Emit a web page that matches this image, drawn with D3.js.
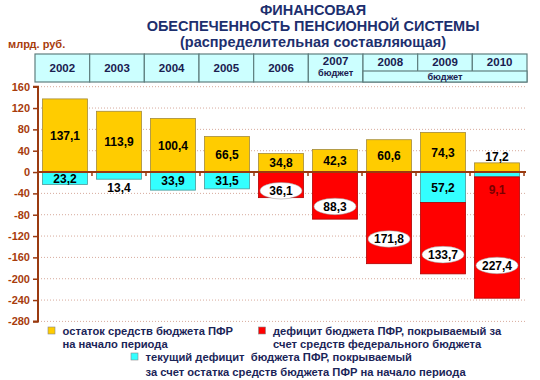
<!DOCTYPE html>
<html>
<head>
<meta charset="utf-8">
<script src="https://cdn.jsdelivr.net/npm/d3@7"></script>
<style>
  html, body { margin: 0; padding: 0; background: #ffffff; }
  svg { display: block; font-family: "Liberation Sans", Arial, sans-serif; }
</style>
</head>
<body>
<svg id="chart" width="540" height="380"></svg>
<script>
// ---------- data ----------
const years = ["2002", "2003", "2004", "2005", "2006", "2007", "2008", "2009", "2010"];
const budgetYears = ["2007", "2008", "2009", "2010"];
const balanceStart = [137.1, 113.9, 100.4, 66.5, 34.8, 42.3, 60.6, 74.3, 17.2];     // yellow
const deficitFromBalance = [23.2, 13.4, 33.9, 31.5, 0, 0, 0, 57.2, 9.1];          // cyan
const deficitFederalBar = [0, 0, 0, 0, 48, 88.3, 171.8, 133.7, 227.4];             // red (as drawn)
const deficitFederalLabel = ["", "", "", "", "36,1", "88,3", "171,8", "133,7", "227,4"];
const yTicks = [160, 120, 80, 40, 0, -40, -80, -120, -160, -200, -240, -280];
const titleLines = ["ФИНАНСОВАЯ", "ОБЕСПЕЧЕННОСТЬ ПЕНСИОННОЙ СИСТЕМЫ", "(распределительная составляющая)"];
const unitLabel = "млрд. руб.";
const budgetWord = "бюджет";
const legendItems = [
  {key: "yellow", lines: ["остаток средств бюджета ПФР", "на начало периода"]},
  {key: "red", lines: ["дефицит бюджета ПФР, покрываемый за", "счет средств федерального бюджета"]},
  {key: "cyan", lines: ["текущий дефицит  бюджета ПФР, покрываемый", "за счет остатка средств бюджета ПФР на начало периода"]}
];

// ---------- styles ----------
const C = {
  yellow: "#ffcc00", cyan: "#33ffff", red: "#ff0000",
  axis: "#9a3a10", tickText: "#a83c0c", grid: "#d7aa9c",
  title: "#1d2f6e", legendText: "#1b2558", tableFill: "#ccffff", tableStroke: "#5f7f7f", tableText: "#1a2050"
};

const svg = d3.select("#chart");
const fmt = d3.formatLocale({decimal: ",", thousands: " ", grouping: [3], currency: ["", ""], minus: "-"}).format(".1f");

// ---------- scales ----------
const x = d3.scaleBand().domain(years).range([38, 524]).paddingInner(0.167).paddingOuter(0.083);
const y = d3.scaleLinear().domain([-280, 160]).range([321.4, 86.7]);
const xTable = d3.scaleBand().domain(years).range([35, 527]);

// ---------- title ----------
const titleY = [14.5, 30.6, 46.7];
svg.append("g").selectAll("text").data(titleLines).join("text")
  .attr("x", 313).attr("y", (d, i) => titleY[i])
  .attr("text-anchor", "middle").attr("font-size", 14.5).attr("font-weight", "bold")
  .attr("fill", C.title).text(d => d);

svg.append("text").attr("x", 8).attr("y", 48).attr("font-size", 11).attr("font-weight", "bold")
  .attr("fill", C.tickText).text(unitLabel);

// ---------- grid ----------
svg.append("g").selectAll("line").data(yTicks.filter(d => d !== 0)).join("line")
  .attr("x1", 38).attr("x2", 526).attr("y1", d => y(d)).attr("y2", d => y(d))
  .attr("stroke", C.grid).attr("stroke-width", 1).attr("stroke-dasharray", "1,2");

// ---------- bars ----------
const gBars = svg.append("g");
const bw = x.bandwidth();
// yellow
gBars.selectAll(".yb").data(years).join("rect").attr("class", "yb")
  .attr("x", d => x(d)).attr("width", bw)
  .attr("y", (d, i) => y(balanceStart[i])).attr("height", (d, i) => y(0) - y(balanceStart[i]))
  .attr("fill", C.yellow).attr("stroke", "#a28a3c").attr("stroke-width", 0.8);
// cyan
gBars.selectAll(".cb").data(years.filter((d, i) => deficitFromBalance[i] > 0)).join("rect").attr("class", "cb")
  .attr("x", d => x(d)).attr("width", bw)
  .attr("y", y(0)).attr("height", d => y(-deficitFromBalance[years.indexOf(d)]) - y(0))
  .attr("fill", C.cyan).attr("stroke", "#4a9a9a").attr("stroke-width", 0.8);
// red
gBars.selectAll(".rb").data(years.filter((d, i) => deficitFederalBar[i] > 0)).join("rect").attr("class", "rb")
  .attr("x", d => x(d)).attr("width", bw)
  .attr("y", d => y(-deficitFromBalance[years.indexOf(d)]))
  .attr("height", d => { const i = years.indexOf(d); return y(-deficitFromBalance[i] - deficitFederalBar[i]) - y(-deficitFromBalance[i]); })
  .attr("fill", C.red).attr("stroke", "#b00000").attr("stroke-width", 0.8);

// ---------- zero line + ticks ----------
svg.append("line").attr("x1", 38).attr("x2", 526).attr("y1", y(0)).attr("y2", y(0))
  .attr("stroke", C.axis).attr("stroke-width", 2);
svg.append("g").selectAll("line").data(years).join("line")
  .attr("x1", d => x(d) + bw + (x.step() - bw) / 2)
  .attr("x2", d => x(d) + bw + (x.step() - bw) / 2)
  .attr("y1", y(0)).attr("y2", y(0) + 4)
  .attr("stroke", C.axis).attr("stroke-width", 1.5);

// ---------- y axis ----------
const yAxis = d3.axisLeft(y).tickValues(yTicks).tickSize(5).tickPadding(3).tickFormat(d => String(d));
const gy = svg.append("g").attr("transform", "translate(38,0)").call(yAxis);
gy.select(".domain").attr("stroke", C.axis).attr("stroke-width", 2).attr("d", `M-5,${y(160)}H0V${y(-280)}H-5`);
gy.selectAll(".tick line").attr("stroke", C.axis).attr("stroke-width", 1.5);
gy.selectAll(".tick text").attr("fill", C.tickText).attr("font-size", 11).attr("font-weight", "bold")
  .attr("font-family", "Liberation Sans, Arial, sans-serif");

// ---------- value labels ----------
const gLab = svg.append("g").attr("font-size", 12).attr("font-weight", "bold").attr("text-anchor", "middle");
years.forEach((yr, i) => {
  const cx = x(yr) + bw / 2;
  // yellow
  const yh = y(0) - y(balanceStart[i]);
  const yy = yh >= 14 ? y(balanceStart[i]) + yh / 2 : y(balanceStart[i]) - 6;
  gLab.append("text").attr("x", cx).attr("y", yy).attr("dy", "0.36em").attr("fill", "#000").text(fmt(balanceStart[i]));
  // cyan
  if (deficitFromBalance[i] > 0) {
    const ch = y(-deficitFromBalance[i]) - y(0);
    const inside = ch >= 12;
    const onRed = !inside && deficitFederalBar[i] > 0;
    const cy = inside ? y(0) + ch / 2 : y(-deficitFromBalance[i]) + (onRed ? 13 : 8.5);
    gLab.append("text").attr("x", cx).attr("y", cy).attr("dy", "0.36em")
      .attr("fill", onRed ? "#7a0000" : "#000").text(fmt(deficitFromBalance[i]));
  }
  // red
  if (deficitFederalBar[i] > 0) {
    const top = y(-deficitFromBalance[i]);
    const bot = y(-deficitFromBalance[i] - deficitFederalBar[i]);
    const ey = top + (bot - top) * 0.73;
    gLab.append("ellipse").attr("cx", cx).attr("cy", ey).attr("rx", 21).attr("ry", 8.3)
      .attr("fill", "#fff").attr("stroke", "#999").attr("stroke-width", 0.5);
    gLab.append("text").attr("x", cx).attr("y", ey).attr("dy", "0.36em").attr("fill", "#000").text(deficitFederalLabel[i]);
  }
});

// ---------- header table ----------
const tTop = 54, tBot = 82, tMid = 71;
const gT = svg.append("g");
gT.selectAll("rect").data(years).join("rect")
  .attr("x", d => xTable(d)).attr("y", tTop).attr("width", xTable.bandwidth()).attr("height", tBot - tTop)
  .attr("fill", C.tableFill).attr("stroke", C.tableStroke).attr("stroke-width", 1.2);
const split = budgetYears.slice(1);
const mx0 = xTable(split[0]), mx1 = xTable(split[split.length - 1]) + xTable.bandwidth();
gT.append("rect").attr("x", mx0).attr("y", tMid).attr("width", mx1 - mx0).attr("height", tBot - tMid)
  .attr("fill", C.tableFill).attr("stroke", C.tableStroke).attr("stroke-width", 1.2);
gT.selectAll(".yr").data(years).join("text").attr("class", "yr")
  .attr("x", d => xTable(d) + xTable.bandwidth() / 2)
  .attr("y", d => d === budgetYears[0] ? 65 : (split.includes(d) ? 66 : 71.5))
  .attr("text-anchor", "middle").attr("font-size", 11.5).attr("font-weight", "bold")
  .attr("fill", C.tableText).text(d => d);
gT.append("text").attr("x", xTable(budgetYears[0]) + xTable.bandwidth() / 2).attr("y", 75.5)
  .attr("text-anchor", "middle").attr("font-size", 9.2).attr("font-weight", "bold").attr("fill", C.tableText).text(budgetWord);
gT.append("text").attr("x", (mx0 + mx1) / 2).attr("y", 79.5)
  .attr("text-anchor", "middle").attr("font-size", 9.2).attr("font-weight", "bold").attr("fill", C.tableText).text(budgetWord);

// ---------- legend ----------
const legendPos = {yellow: [48, 327], red: [258.5, 327], cyan: [131, 353]};
const lineGap = {yellow: 13, red: 13, cyan: 15};
const gL = svg.append("g");
legendItems.forEach(item => {
  const [lx, ly] = legendPos[item.key];
  gL.append("rect").attr("x", lx).attr("y", ly).attr("width", 7).attr("height", 7)
    .attr("fill", C[item.key]).attr("stroke", "#888").attr("stroke-width", 0.6);
  item.lines.forEach((ln, j) => {
    gL.append("text").attr("x", lx + 14.5).attr("y", ly + 7.5 + j * lineGap[item.key])
      .attr("font-size", 11.2).attr("font-weight", "bold").attr("fill", C.legendText)
      .attr("xml:space", "preserve").style("white-space", "pre").text(ln);
  });
});
</script>
</body>
</html>
